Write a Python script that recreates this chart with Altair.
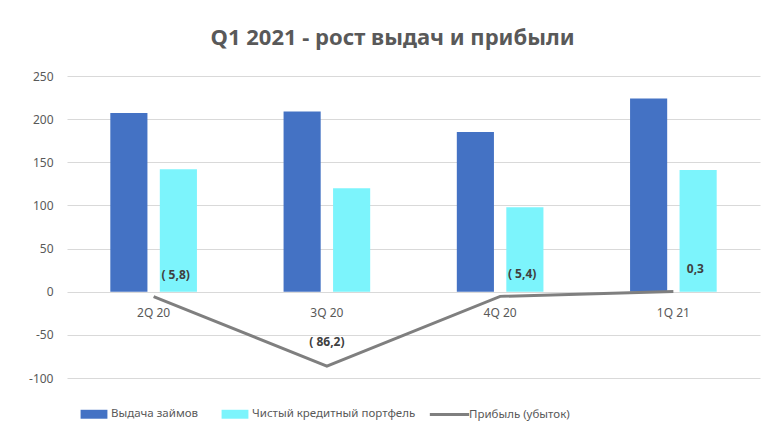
import altair as alt
import pandas as pd

quarters = ["2Q 20", "3Q 20", "4Q 20", "1Q 21"]
loans_issued = [207, 209, 185, 224]
net_portfolio = [142, 120, 98, 141]
profit = [-5.8, -86.2, -5.4, 0.3]

s_loans = "Выдача займов"
s_port = "Чистый кредитный портфель"
s_profit = "Прибыль (убыток)"


def fmt(v):
    s = f"{abs(v):.1f}".replace(".", ",")
    return f"( {s})" if v < 0 else s


bars = pd.DataFrame(
    [{"q": q, "series": s_loans, "value": v} for q, v in zip(quarters, loans_issued)]
    + [{"q": q, "series": s_port, "value": v} for q, v in zip(quarters, net_portfolio)]
)
line_df = pd.DataFrame(
    {"q": quarters, "value": profit, "label": [fmt(v) for v in profit], "series": s_profit}
)
cat_df = pd.DataFrame({"q": quarters})

FONT = "Noto Sans"
GREY = "#595959"

x = alt.X(
    "q:N",
    sort=quarters,
    axis=None,
    scale=alt.Scale(paddingInner=0.5, paddingOuter=0.25),
)
y_scale = alt.Scale(domain=[-100, 250], nice=False, zero=False)

bar_layer = alt.Chart(bars).mark_bar().encode(
    x=x,
    xOffset=alt.XOffset(
        "series:N", sort=[s_loans, s_port], scale=alt.Scale(paddingInner=0.25, paddingOuter=0)
    ),
    y=alt.Y(
        "value:Q",
        scale=y_scale,
        title=None,
        axis=alt.Axis(
            values=[-100, -50, 0, 50, 100, 150, 200, 250],
            labelExpr="replace(datum.label, '−', '-')",
            grid=True,
            gridColor="#d9d9d9",
            domain=False,
            ticks=False,
            labelColor=GREY,
            labelFontSize=12,
            labelFont=FONT,
            labelPadding=14,
        ),
    ),
    color=alt.Color(
        "series:N",
        sort=[s_loans, s_port],
        scale=alt.Scale(domain=[s_loans, s_port], range=["#4472C4", "#7CF4FC"]),
        legend=alt.Legend(
            title=None,
            orient="none",
            legendX=17,
            legendY=328,
            direction="horizontal",
            symbolType="M-1.5,-0.5H1.5V0.5H-1.5Z",
            symbolSize=320,
            labelFontSize=11.5,
            labelFont=FONT,
            labelColor=GREY,
            labelLimit=300,
            labelOffset=7,
            columnPadding=22,
            symbolOpacity=1,
        ),
    ),
)

line_layer = alt.Chart(line_df).mark_line(strokeWidth=3).encode(
    x=x,
    y=alt.Y("value:Q", scale=y_scale),
    stroke=alt.Stroke(
        "series:N",
        scale=alt.Scale(domain=[s_profit], range=["#7f7f7f"]),
        legend=alt.Legend(
            title=None,
            orient="none",
            legendX=372,
            legendY=328,
            symbolType="M-2.2,0H2.2",
            symbolStrokeWidth=3,
            symbolSize=320,
            labelFontSize=11.5,
            labelFont=FONT,
            labelColor=GREY,
            labelLimit=300,
            labelOffset=9,
        ),
    ),
)

label_side = alt.Chart(line_df).transform_filter(
    alt.datum.q != "3Q 20"
).mark_text(fontWeight="bold", fontSize=12, font=FONT, color="#404040", dx=22, dy=-22).encode(
    x=x, y=alt.Y("value:Q", scale=y_scale), text="label:N"
)
label_mid = alt.Chart(line_df).transform_filter(
    alt.datum.q == "3Q 20"
).mark_text(fontWeight="bold", fontSize=12, font=FONT, color="#404040", dy=-24).encode(
    x=x, y=alt.Y("value:Q", scale=y_scale), text="label:N"
)

cat_labels = alt.Chart(cat_df).mark_text(fontSize=12, font=FONT, color=GREY, dy=21).encode(
    x=x, y=alt.datum(0), text="q:N"
)

chart = (
    alt.layer(bar_layer, line_layer, label_side, label_mid, cat_labels)
    .resolve_legend(color="independent", stroke="independent")
    .properties(
        width=693,
        height=302,
        autosize=alt.AutoSizeParams(type="none"),
        padding={"left": 59, "top": 68, "right": 3, "bottom": 52},
        title=alt.TitleParams(
            "Q1 2021 - рост выдач и прибыли",
            fontSize=22,
            font=FONT,
            fontWeight="bold",
            color=GREY,
            anchor="middle",
            offset=20,
            dx=-21,
        ),
    )
    .configure_view(stroke=None)
)

chart.save("out.html", embed_options={"renderer": "svg", "actions": False})
